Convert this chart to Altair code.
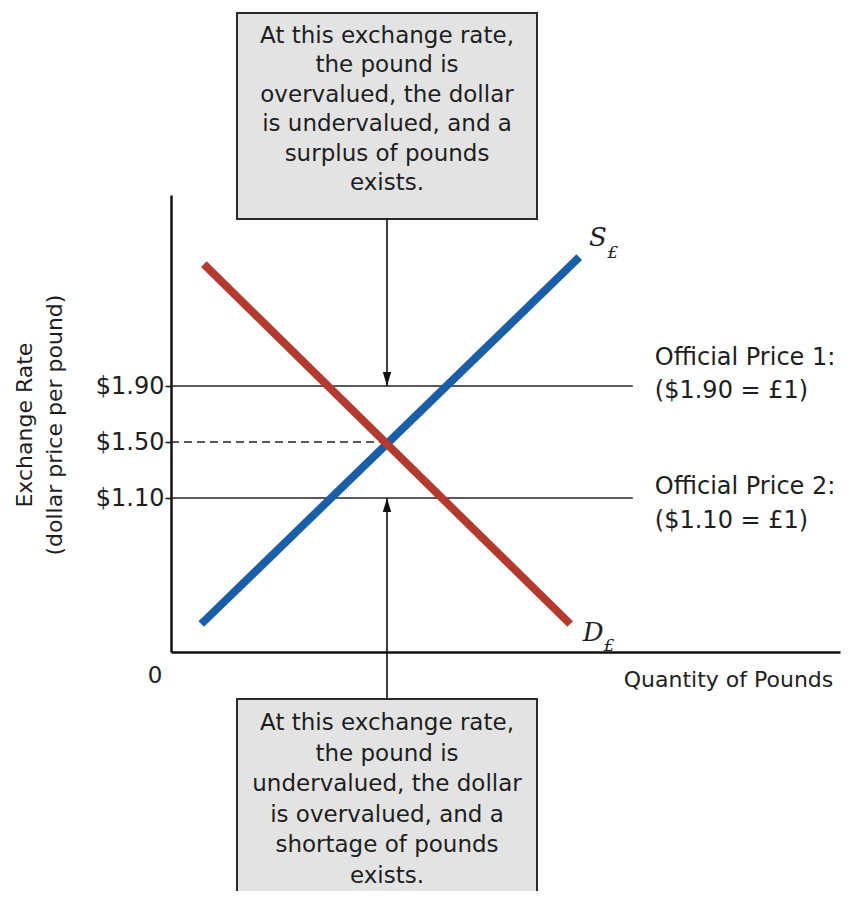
import altair as alt
import pandas as pd

# ---------------- data ----------------
# quantity units: equilibrium quantity = 5 ; price in dollars per pound
supply_q = [0.70, 9.45]
supply_p = [0.20, 2.82]
demand_q = [0.76, 9.24]
demand_p = [2.77, 0.20]

official_prices = [1.90, 1.10]
official_end_q = [10.69, 10.69]
eq_price = 1.50
eq_q = 5.0
tick_values = [1.10, 1.50, 1.90]

official_text = ["Official Price 1:", "($1.90 = \u00a31)", "Official Price 2:", "($1.10 = \u00a31)"]
official_text_p = [2.10, 1.864, 1.179, 0.936]

top_box_text = "At this exchange rate,\nthe pound is\novervalued, the dollar\nis undervalued, and a\nsurplus of pounds\nexists."
bottom_box_text = "At this exchange rate,\nthe pound is\nundervalued, the dollar\nis overvalued, and a\nshortage of pounds\nexists."

y_title_lines = ["Exchange Rate", "(dollar price per pound)"]
x_title = "Quantity of Pounds"

# ---------------- layout constants ----------------
BLUE = "#1b5ea8"
RED = "#b23a2f"
INK = "#1e1e1e"
FONT = "DejaVu Sans"
SERIF = "DejaVu Serif"

x_dom = [0, 669 / 43.2]
y_dom = [0, 457 / 140]
xs = alt.Scale(domain=x_dom, nice=False, zero=False)
ys = alt.Scale(domain=y_dom, nice=False, zero=False)

xaxis = alt.Axis(title=None, labels=False, ticks=False, grid=False,
                 domainColor="#111", domainWidth=2.5)
yaxis = alt.Axis(title=None, values=tick_values, grid=False,
                 labelExpr="'$' + format(datum.value, '.2f')",
                 labelFont=FONT, labelFontSize=24, labelColor=INK,
                 labelPadding=1, tickSize=6, tickWidth=1.5, tickColor="#111",
                 domainColor="#111", domainWidth=2.5)


def X(f):
    return alt.X(f, type="quantitative", scale=xs, axis=xaxis)


def Y(f):
    return alt.Y(f, type="quantitative", scale=ys, axis=yaxis)


# curves
curves = pd.DataFrame({
    "q": supply_q + demand_q,
    "p": supply_p + demand_p,
    "series": ["S", "S", "D", "D"],
})
curve_layer = alt.Chart(curves).mark_line(strokeWidth=8, strokeCap="butt").encode(
    x=X("q"), y=Y("p"),
    color=alt.Color("series:N", scale=alt.Scale(domain=["S", "D"], range=[BLUE, RED]), legend=None),
    detail="series:N",
)

# official price lines
off_df = pd.DataFrame({"p": official_prices, "q0": [0, 0], "q1": official_end_q})
off_layer = alt.Chart(off_df).mark_rule(color="#222", strokeWidth=1.6).encode(
    x=X("q0"), x2="q1", y=Y("p"))

# equilibrium dashed
eq_df = pd.DataFrame({"p": [eq_price], "q0": [0], "q1": [eq_q]})
eq_layer = alt.Chart(eq_df).mark_rule(color="#222", strokeWidth=1.6, strokeDash=[8, 5]).encode(
    x=X("q0"), x2="q1", y=Y("p"))

# annotation boxes
box_df = pd.DataFrame({
    "q0": [1.528, 1.528], "q1": [8.472, 8.472],
    "p0": [4.564, -0.336], "p1": [3.093, -1.80],
})
box_layer = alt.Chart(box_df).mark_rect(fill="#e3e3e3", stroke="#2a2a2a", strokeWidth=2).encode(
    x=X("q0"), x2="q1", y=Y("p0"), y2="p1")

# arrow shafts
arrow_df = pd.DataFrame({"q": [eq_q, eq_q], "p0": [3.093, -0.336], "p1": [1.90, 1.10]})
shaft_layer = alt.Chart(arrow_df).mark_rule(color="#111", strokeWidth=1.6).encode(
    x=X("q"), y=Y("p0"), y2="p1")

head_down = alt.Chart(pd.DataFrame({"q": [eq_q], "p": [1.90]})).mark_point(
    shape="M-0.3,-1L0.3,-1L0,0Z", filled=True, size=784, color="#111", opacity=1
).encode(x=X("q"), y=Y("p"))
head_up = alt.Chart(pd.DataFrame({"q": [eq_q], "p": [1.10]})).mark_point(
    shape="M-0.3,1L0.3,1L0,0Z", filled=True, size=784, color="#111", opacity=1
).encode(x=X("q"), y=Y("p"))

# box texts
top_txt = alt.Chart(pd.DataFrame({"q": [eq_q], "p": [4.48], "t": [top_box_text]})).mark_text(
    font=FONT, fontSize=23, color=INK, align="center", baseline="top",
    lineBreak="\n", lineHeight=29.5
).encode(x=X("q"), y=Y("p"), text="t:N")
bot_txt = alt.Chart(pd.DataFrame({"q": [eq_q], "p": [-0.4286], "t": [bottom_box_text]})).mark_text(
    font=FONT, fontSize=23, color=INK, align="center", baseline="top",
    lineBreak="\n", lineHeight=30.5
).encode(x=X("q"), y=Y("p"), text="t:N")

# official price labels
off_txt = alt.Chart(pd.DataFrame({"q": [11.2] * 4, "p": official_text_p, "t": official_text})).mark_text(
    font=FONT, fontSize=24, color=INK, align="left", baseline="middle"
).encode(x=X("q"), y=Y("p"), text="t:N")

# axis titles and origin
ytitle = alt.Chart(pd.DataFrame({"q": [-3.38, -2.685], "p": [1.621, 1.621], "t": y_title_lines})).mark_text(
    font=FONT, fontSize=22, color=INK, angle=270, align="center", baseline="middle"
).encode(x=X("q"), y=Y("p"), text="t:N")
xtitle = alt.Chart(pd.DataFrame({"q": [10.48], "p": [-0.20], "t": [x_title]})).mark_text(
    font=FONT, fontSize=22, color=INK, align="left", baseline="middle"
).encode(x=X("q"), y=Y("p"), text="t:N")
zero_txt = alt.Chart(pd.DataFrame({"q": [-0.37], "p": [-0.171], "t": ["0"]})).mark_text(
    font=FONT, fontSize=23, color=INK, align="center", baseline="middle"
).encode(x=X("q"), y=Y("p"), text="t:N")

# curve labels
cur_lbl = alt.Chart(pd.DataFrame({"q": [9.88, 9.77], "p": [2.957, 0.136], "t": ["S", "D"]})).mark_text(
    font=SERIF, fontSize=26, fontStyle="italic", color=INK, align="center", baseline="middle"
).encode(x=X("q"), y=Y("p"), text="t:N")
cur_sub = alt.Chart(pd.DataFrame({"q": [10.23, 10.14], "p": [2.85, 0.04], "t": ["\u00a3", "\u00a3"]})).mark_text(
    font=SERIF, fontSize=17, fontStyle="italic", color=INK, align="center", baseline="middle"
).encode(x=X("q"), y=Y("p"), text="t:N")

chart = alt.layer(
    box_layer, shaft_layer, head_down, head_up, off_layer, eq_layer, curve_layer,
    top_txt, bot_txt, off_txt, ytitle, xtitle, zero_txt, cur_lbl, cur_sub,
).properties(
    width=669, height=457,
    padding={"left": 163, "top": 187, "right": 1, "bottom": 239},
    autosize="none",
    background="white",
).configure_view(stroke=None)

chart.save("out.html", embed_options={"renderer": "svg", "actions": False})
